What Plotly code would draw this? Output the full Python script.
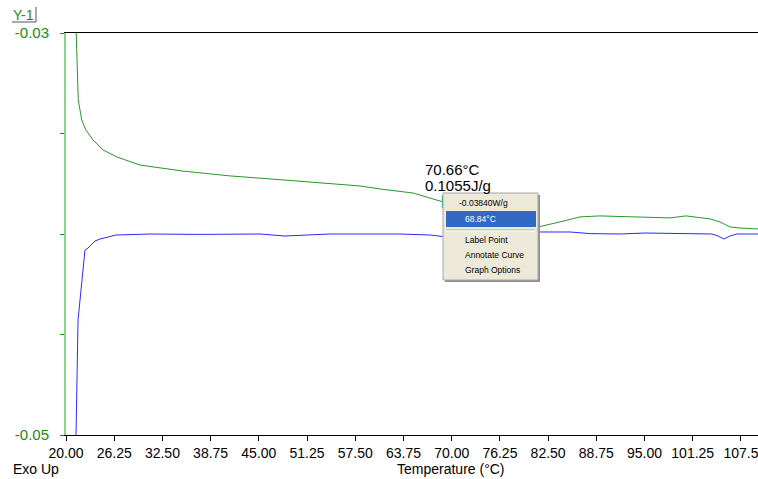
import plotly.graph_objects as go

# Heat flow (W/g) versus temperature (°C) for two DSC runs
green_temp = [21.20, 21.30, 21.59, 22.04, 22.59, 23.50, 24.80, 26.61, 29.59, 35.17,
              37.37, 41.26, 46.45, 52.93, 58.11, 60.70, 64.98, 68.84, 73.67, 78.85,
              81.19, 84.04, 86.63, 89.22, 93.11, 98.30, 100.37, 102.19, 103.49,
              104.78, 106.08, 107.37, 109.71]
green_flow = [-0.0285, -0.03000, -0.03333, -0.03433, -0.03483, -0.03532, -0.03582,
              -0.03617, -0.03657, -0.03687, -0.03697, -0.03711, -0.03726, -0.03746,
              -0.03761, -0.03776, -0.03796, -0.03840, -0.03891, -0.03950, -0.03965,
              -0.03940, -0.03915, -0.03910, -0.03915, -0.03920, -0.03910, -0.03920,
              -0.03925, -0.03940, -0.03965, -0.03970, -0.03975]

blue_temp = [21.17, 21.30, 21.56, 22.20, 22.46, 22.85, 23.76, 24.41, 26.48, 30.89,
             37.37, 45.15, 48.39, 54.22, 63.30, 67.19, 68.74, 81.19, 85.34, 87.93,
             91.82, 95.06, 100.89, 103.74, 104.52, 105.30, 106.08, 106.98, 109.71]
blue_flow = [-0.0505, -0.05000, -0.04428, -0.04179, -0.04080, -0.04070, -0.04035,
             -0.04025, -0.04005, -0.04000, -0.04002, -0.04000, -0.04010, -0.04000,
             -0.04000, -0.04005, -0.04012, -0.03990, -0.03990, -0.03998, -0.04000,
             -0.03995, -0.04000, -0.04000, -0.04010, -0.04025, -0.04010, -0.04000,
             -0.04000]

# Cursor readout
cursor_temp = 68.84
cursor_flow = -0.03840
label_temp = "70.66°C"
label_enthalpy = "0.1055J/g"
menu_items = ["Label Point", "Annotate Curve", "Graph Options"]

x_ticks = [20.00, 26.25, 32.50, 38.75, 45.00, 51.25, 57.50, 63.75, 70.00,
           76.25, 82.50, 88.75, 95.00, 101.25, 107.5]
x_tick_text = ["%.2f" % v for v in x_ticks[:-1]] + ["107.5"]
y_ticks = [-0.05, -0.045, -0.04, -0.035, -0.03]
y_tick_text = ["-0.05", "", "", "", "-0.03"]

W, H = 758, 479
L, R, T, B = 66, 0, 33, 44
PW, PH = W - L - R, H - T - B

GREEN = "#2a962a"
BLUE = "#2b2bff"
AXIS_GREEN = "#168c16"
FONT = "Liberation Sans, Arial, sans-serif"


def px(x):
    return (x - L) / PW


def py(y):
    return (T + PH - y) / PH


fig = go.Figure()
fig.add_trace(go.Scatter(x=green_temp, y=green_flow, mode="lines",
                         line=dict(color=GREEN, width=1), hoverinfo="skip"))
fig.add_trace(go.Scatter(x=blue_temp, y=blue_flow, mode="lines",
                         line=dict(color=BLUE, width=1), hoverinfo="skip"))
fig.add_trace(go.Scatter(x=[cursor_temp], y=[cursor_flow], mode="markers",
                         marker=dict(symbol="line-ns-open", size=9,
                                     line=dict(color="#ff6a6a", width=2)),
                         hoverinfo="skip"))

shapes = []
annotations = []

# Readout labels near the cursor
annotations.append(dict(xref="paper", yref="paper", x=px(423), y=py(169),
                        xanchor="left", yanchor="middle", text=label_temp,
                        showarrow=False, font=dict(family=FONT, size=15, color="black")))
annotations.append(dict(xref="paper", yref="paper", x=px(423), y=py(185),
                        xanchor="left", yanchor="middle", text=label_enthalpy,
                        showarrow=False, font=dict(family=FONT, size=15, color="black")))

# Context menu
mx0, my0, mx1, my1 = 443, 193, 538, 280
shapes.append(dict(type="rect", xref="paper", yref="paper", layer="above",
                   x0=px(mx0 + 2), y0=py(my1 + 2), x1=px(mx1 + 2), y1=py(my0 + 2),
                   fillcolor="#8f8f8f", line=dict(width=0)))
shapes.append(dict(type="rect", xref="paper", yref="paper", layer="above",
                   x0=px(mx0), y0=py(my1), x1=px(mx1), y1=py(my0),
                   fillcolor="#ece9d8", line=dict(color="#a7a6aa", width=1)))
shapes.append(dict(type="rect", xref="paper", yref="paper", layer="above",
                   x0=px(mx0 + 3), y0=py(227), x1=px(mx1 - 2), y1=py(211),
                   fillcolor="#316ac5", line=dict(width=0)))
shapes.append(dict(type="line", xref="paper", yref="paper", layer="above",
                   x0=px(mx0 + 3), y0=py(230), x1=px(mx1 - 3), y1=py(230),
                   line=dict(color="#aca899", width=1)))
shapes.append(dict(type="line", xref="paper", yref="paper", layer="above",
                   x0=px(mx0 + 3), y0=py(231), x1=px(mx1 - 3), y1=py(231),
                   line=dict(color="#ffffff", width=1)))

menu_font = dict(family=FONT, size=8.5, color="black")
annotations.append(dict(xref="paper", yref="paper", x=px(457), y=py(203),
                        xanchor="left", yanchor="middle",
                        text="%.5fW/g" % cursor_flow, showarrow=False, font=menu_font))
annotations.append(dict(xref="paper", yref="paper", x=px(463), y=py(219),
                        xanchor="left", yanchor="middle",
                        text="%.2f°C" % cursor_temp, showarrow=False,
                        font=dict(family=FONT, size=8.5, color="white")))
for item, yy in zip(menu_items, [240, 255, 270]):
    annotations.append(dict(xref="paper", yref="paper", x=px(463), y=py(yy),
                            xanchor="left", yanchor="middle", text=item,
                            showarrow=False, font=menu_font))

# Y-axis caption with its bracket
annotations.append(dict(xref="paper", yref="paper", x=px(11), y=py(15),
                        xanchor="left", yanchor="middle", text="Y-1",
                        showarrow=False, font=dict(family=FONT, size=14, color=AXIS_GREEN)))
shapes.append(dict(type="line", xref="paper", yref="paper",
                   x0=px(12), y0=py(22), x1=px(36), y1=py(22),
                   line=dict(color="#555555", width=1)))
shapes.append(dict(type="line", xref="paper", yref="paper",
                   x0=px(36), y0=py(7), x1=px(36), y1=py(22),
                   line=dict(color="#555555", width=1)))

# Bottom captions
annotations.append(dict(xref="paper", yref="paper", x=px(11), y=py(479),
                        xanchor="left", yanchor="bottom", text="Exo Up",
                        showarrow=False, font=dict(family=FONT, size=14, color="black")))
annotations.append(dict(xref="paper", yref="paper", x=px(451), y=py(479),
                        xanchor="center", yanchor="bottom", text="Temperature (°C)",
                        showarrow=False, font=dict(family=FONT, size=14, color="black")))

fig.update_layout(
    width=W, height=H,
    margin=dict(l=L, r=R, t=T, b=B, pad=0),
    paper_bgcolor="white", plot_bgcolor="white",
    showlegend=False,
    shapes=shapes, annotations=annotations,
    xaxis=dict(range=[20, 109.71], tickvals=x_ticks, ticktext=x_tick_text,
               showgrid=False, zeroline=False, showline=True, linecolor="black",
               linewidth=1, mirror=True, ticks="outside", ticklen=5,
               tickcolor="black", ticklabeloverflow="allow",
               tickfont=dict(family=FONT, size=14, color="black")),
    yaxis=dict(range=[-0.05, -0.03], tickvals=y_ticks, ticktext=y_tick_text,
               showgrid=False, zeroline=False, showline=True, linecolor="#8fcf8f",
               linewidth=2, ticks="outside", ticklen=4, tickcolor=AXIS_GREEN,
               ticklabelstandoff=8,
               tickfont=dict(family=FONT, size=15, color=AXIS_GREEN)),
)

fig.write_html("out.html")
